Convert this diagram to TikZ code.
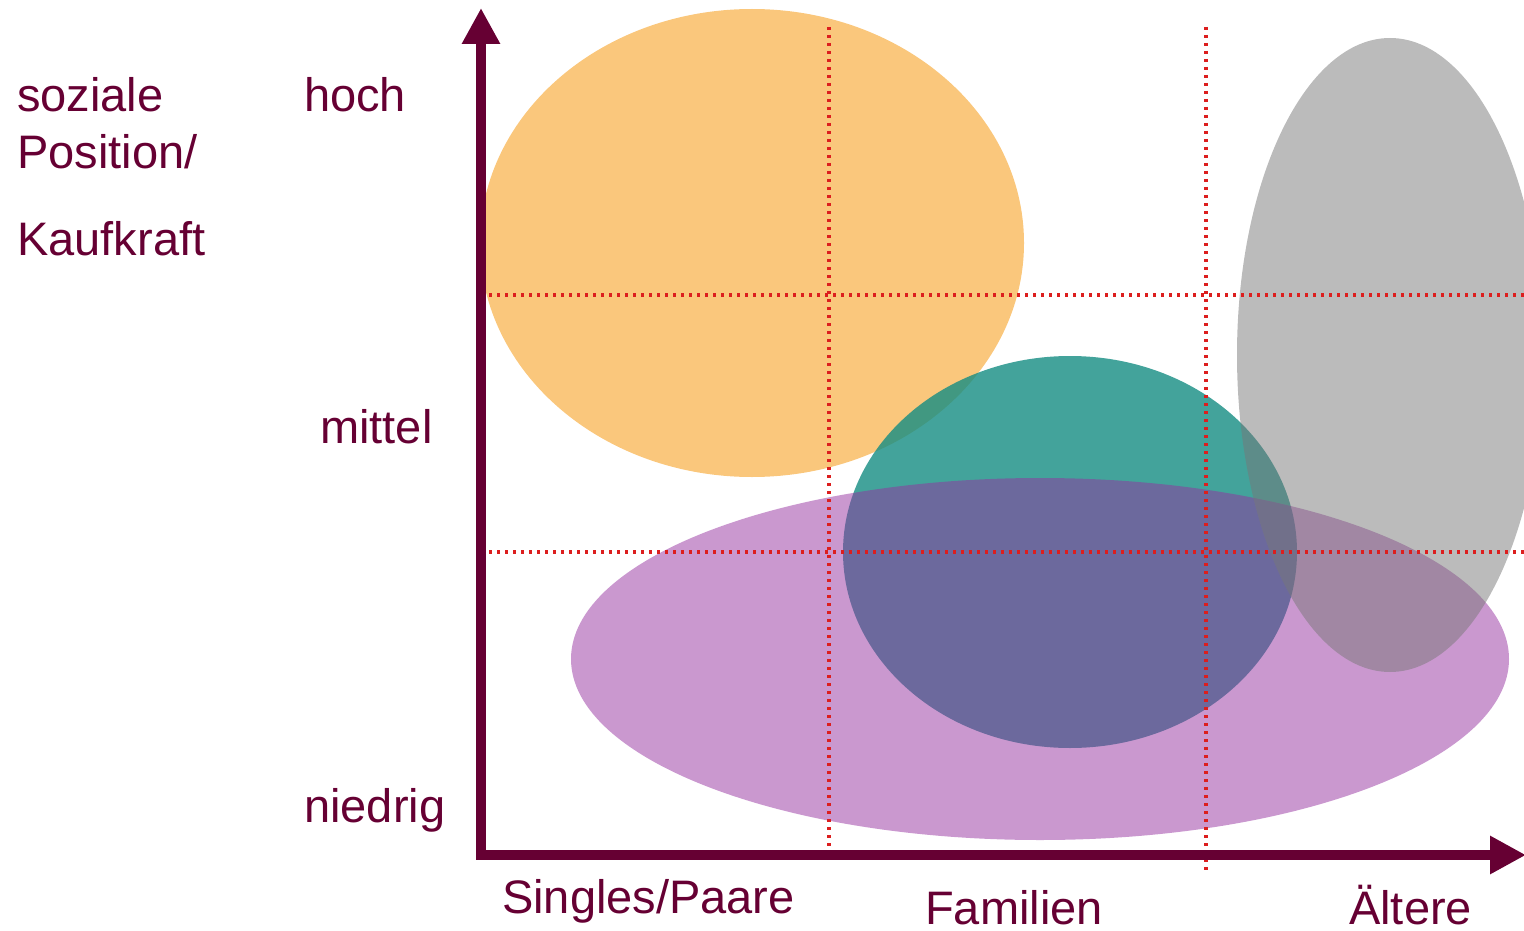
\documentclass[tikz,border=0pt]{standalone}
\usepackage{fontspec}
\setmainfont{Liberation Sans}
\usetikzlibrary{arrows.meta}
\definecolor{axiscol}{RGB}{102,0,51}
\definecolor{gridred}{RGB}{220,30,30}
\definecolor{orangefill}{RGB}{248,180,80}
\definecolor{tealfill}{RGB}{20,140,130}
\definecolor{purplefill}{RGB}{150,50,160}
\definecolor{grayfill}{RGB}{120,120,120}
\tikzset{
  lbl/.style={anchor=base west, inner sep=0pt, text=axiscol, font=\fontsize{47}{56}\selectfont},
  axisline/.style={draw=axiscol, line width=10pt, -{Triangle[length=36pt,width=36pt]}},
  gridline/.style={draw=gridred, line width=3.5pt, dash pattern=on 3pt off 5pt},
}
\begin{document}
\begin{tikzpicture}[x=1pt,y=-1pt]
\useasboundingbox (0,0) rectangle (1524,931);
\begin{scope}
\clip (0,0) rectangle (1524,931);
% ellipses
\fill[orangefill, opacity=0.75] (752,243) ellipse [x radius=272, y radius=234];
\fill[tealfill, opacity=0.8] (1070,552) ellipse [x radius=227, y radius=196];
\fill[purplefill, opacity=0.5] (1040,659) ellipse [x radius=469, y radius=181];
\fill[grayfill, opacity=0.5] (1390,355) ellipse [x radius=153, y radius=317];
% grid lines
\coordinate (v1t) at (829,27);  \coordinate (v1b) at (829,855);
\coordinate (v2t) at (1206,27); \coordinate (v2b) at (1206,870);
\coordinate (h1l) at (481,295); \coordinate (h1r) at (1524,295);
\coordinate (h2l) at (481,552); \coordinate (h2r) at (1524,552);
\draw[gridline] (v1t) -- (v1b);
\draw[gridline] (v2t) -- (v2b);
\draw[gridline] (h1l) -- (h1r);
\draw[gridline] (h2l) -- (h2r);
% axes
\coordinate (origin) at (481,855);
\coordinate (ytip) at (481,8);
\coordinate (xtip) at (1526,855);
\draw[axisline] ([yshift=5pt]origin) -- (ytip);
\draw[axisline] ([xshift=-5pt]origin) -- (xtip);
\end{scope}
% labels
\node[lbl] (soz) at (17,112) {soziale};
\node[lbl] (pos) at (17,168) {Position/};
\node[lbl] (kauf) at (17,255) {Kaufkraft};
\node[lbl] (hoch) at (304,112) {hoch};
\node[lbl] (mittel) at (320,443) {mittel};
\node[lbl] (niedrig) at (304,822) {niedrig};
\node[lbl] (singles) at (502,913) {Singles/Paare};
\node[lbl] (fam) at (925,924) {Familien};
\node[lbl] (alt) at (1349,924) {Ältere};
\end{tikzpicture}
\end{document}
